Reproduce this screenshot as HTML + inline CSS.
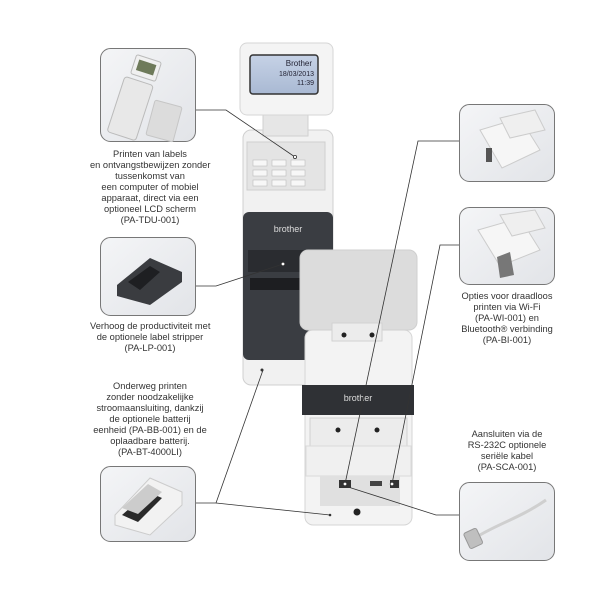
<!DOCTYPE html>
<html><head><meta charset="utf-8"><style>
html,body{margin:0;padding:0;background:#fff;}
body{width:612px;height:589px;position:relative;overflow:hidden;font-family:"Liberation Sans",sans-serif;}
.t{position:absolute;text-align:center;font-size:9.3px;line-height:11px;color:#333;white-space:nowrap;}
</style></head><body>
<svg width="612" height="589" style="position:absolute;left:0;top:0">
<defs>
<linearGradient id="bx" x1="0" y1="0" x2="1" y2="1"><stop offset="0" stop-color="#f4f5f7"/><stop offset="1" stop-color="#e2e4e8"/></linearGradient>
<linearGradient id="lcd" x1="0" y1="0" x2="0" y2="1"><stop offset="0" stop-color="#c6d2e6"/><stop offset="1" stop-color="#a9b9d3"/></linearGradient>
</defs>
<!-- boxes -->
<g stroke="#777" stroke-width="1" fill="url(#bx)">
<rect x="100.5" y="48.5" width="95" height="93" rx="10"/>
<rect x="100.5" y="237.5" width="95" height="78" rx="10"/>
<rect x="100.5" y="466.5" width="95" height="75" rx="10"/>
<rect x="459.5" y="104.5" width="95" height="77" rx="10"/>
<rect x="459.5" y="207.5" width="95" height="77" rx="10"/>
<rect x="459.5" y="482.5" width="95" height="78" rx="10"/>
</g>
<!-- box contents -->
<g>
<!-- keypad device -->
<rect x="118" y="80" width="30" height="58" rx="3" fill="#e8e8e8" stroke="#bbb" transform="rotate(18 133 100)"/>
<rect x="133" y="58" width="26" height="20" rx="2" fill="#f0f0f0" stroke="#bbb" transform="rotate(18 146 68)"/>
<rect x="137" y="62" width="18" height="11" fill="#6e7a5a" transform="rotate(18 146 68)"/>
<rect x="150" y="103" width="28" height="36" rx="2" fill="#dcdcdc" stroke="#c6c6c6" transform="rotate(15 164 121)"/>
<!-- label stripper -->
<polygon points="117,285 150,258 182,272 182,282 150,305 117,296" fill="#3a3c40"/>
<polygon points="128,282 150,266 160,272 140,290" fill="#1e1f22"/>
<!-- battery -->
<polygon points="115,515 150,478 182,492 182,505 150,535 115,525" fill="#f2f2f2" stroke="#ccc"/>
<polygon points="122,515 148,492 162,498 138,522" fill="#2a2a2a"/>
<polygon points="122,508 148,484 162,492 138,514" fill="#ccc"/>
<!-- wifi module -->
<polygon points="480,130 520,118 540,150 502,168" fill="#f6f6f6" stroke="#ccc"/>
<polygon points="500,118 535,110 545,130 510,138" fill="#efefef" stroke="#ccc"/>
<rect x="486" y="148" width="6" height="14" fill="#555"/>
<!-- bt module -->
<polygon points="478,230 520,218 540,250 500,266" fill="#f6f6f6" stroke="#ccc"/>
<polygon points="500,215 535,210 545,228 512,236" fill="#efefef" stroke="#ccc"/>
<polygon points="497,257 510,252 514,275 500,278" fill="#777"/>
<!-- cable -->
<path d="M475,538 C495,525 520,518 546,500" stroke="#cfcfcf" stroke-width="3" fill="none"/>
<rect x="466" y="530" width="14" height="17" rx="2" fill="#bfbfbf" stroke="#999" transform="rotate(-25 473 538)"/>
</g>
<!-- printer back (front view) -->
<rect x="243" y="130" width="90" height="255" rx="8" fill="#f1f1f1" stroke="#d0d0d0"/>
<rect x="247" y="142" width="78" height="48" fill="#e4e4e4" stroke="#cfcfcf"/>
<g fill="#f7f7f7" stroke="#bdbdbd" stroke-width="0.6">
<rect x="253" y="160" width="14" height="6"/><rect x="272" y="160" width="14" height="6"/><rect x="291" y="160" width="14" height="6"/>
<rect x="253" y="170" width="14" height="6"/><rect x="272" y="170" width="14" height="6"/><rect x="291" y="170" width="14" height="6"/>
<rect x="253" y="180" width="14" height="6"/><rect x="272" y="180" width="14" height="6"/><rect x="291" y="180" width="14" height="6"/>
</g>
<rect x="243" y="212" width="90" height="148" rx="6" fill="#3a3d42"/>
<text x="288" y="232" font-size="9" fill="#ddd" text-anchor="middle" font-family="Liberation Sans">brother</text>
<rect x="248" y="250" width="60" height="22" fill="#2a2c30"/>
<rect x="250" y="278" width="55" height="12" fill="#1d1e21"/>
<rect x="263" y="114" width="45" height="22" fill="#e6e6e6" stroke="#d0d0d0"/>
<rect x="240" y="43" width="93" height="72" rx="7" fill="#f4f4f4" stroke="#d6d6d6"/>
<rect x="250" y="55" width="68" height="39" rx="3" fill="url(#lcd)" stroke="#333" stroke-width="1.5"/>
<text x="312" y="66" font-size="8" fill="#223" text-anchor="end" font-family="Liberation Sans">Brother</text>
<text x="314" y="76" font-size="7" fill="#223" text-anchor="end" font-family="Liberation Sans">18/03/2013</text>
<text x="314" y="85" font-size="7" fill="#223" text-anchor="end" font-family="Liberation Sans">11:39</text>
<circle cx="262" cy="370" r="1.5" fill="#333"/>
<!-- printer with battery (rear) -->
<rect x="305" y="330" width="107" height="195" rx="8" fill="#f3f3f3" stroke="#d6d6d6"/>
<rect x="302" y="385" width="112" height="30" fill="#2f3135"/>
<text x="358" y="401" font-size="9" fill="#ddd" text-anchor="middle" font-family="Liberation Sans">brother</text>
<rect x="310" y="418" width="97" height="28" fill="#ececec" stroke="#d0d0d0"/>
<circle cx="338" cy="430" r="2.5" fill="#222"/><circle cx="377" cy="430" r="2.5" fill="#222"/>
<rect x="306" y="446" width="105" height="30" fill="#f0f0f0" stroke="#dadada"/>
<rect x="320" y="476" width="80" height="30" fill="#e0e0e0"/>
<rect x="339" y="480" width="12" height="8" fill="#333"/><rect x="370" y="481" width="12" height="5" fill="#444"/><rect x="390" y="480" width="9" height="8" fill="#333"/>
<circle cx="357" cy="512" r="3.5" fill="#222"/>
<rect x="300" y="250" width="117" height="80" rx="8" fill="#dcdcdc" stroke="#cfcfcf"/>
<rect x="332" y="323" width="50" height="18" fill="#ececec" stroke="#d2d2d2"/>
<circle cx="344" cy="335" r="2.5" fill="#222"/><circle cx="372" cy="335" r="2.5" fill="#222"/>
<!-- connectors -->
<g stroke="#333" stroke-width="0.8" fill="none">
<polyline points="196,110 226,110 295,157"/>
<polyline points="196,286 216,286 283,264"/>
<polyline points="196,503 216,503 263,370"/>
<polyline points="216,503 330,515"/>
<polyline points="459,141 418,141 345,484"/>
<polyline points="459,245 440,245 392,484"/>
<polyline points="459,515 436,515 345,486"/>
</g>
<g fill="#fff" stroke="#333" stroke-width="0.8">
<circle cx="295" cy="157" r="1.6"/><circle cx="283" cy="264" r="1.8"/><circle cx="345" cy="484" r="1.8"/><circle cx="392" cy="484" r="1.8"/>
</g>
<circle cx="330" cy="515" r="1.3" fill="#333"/>
</svg>
<div class="t" style="left:90px;top:149px;width:120px;">Printen van labels<br>en ontvangstbewijzen zonder<br>tussenkomst van<br>een computer of mobiel<br>apparaat, direct via een<br>optioneel LCD scherm<br>(PA-TDU-001)</div>
<div class="t" style="left:90px;top:321px;width:120px;">Verhoog de productiviteit met<br>de optionele label stripper<br>(PA-LP-001)</div>
<div class="t" style="left:90px;top:381px;width:120px;">Onderweg printen<br>zonder noodzakelijke<br>stroomaansluiting, dankzij<br>de optionele batterij<br>eenheid (PA-BB-001) en de<br>oplaadbare batterij.<br>(PA-BT-4000LI)</div>
<div class="t" style="left:447px;top:291px;width:120px;">Opties voor draadloos<br>printen via Wi-Fi<br>(PA-WI-001) en<br>Bluetooth® verbinding<br>(PA-BI-001)</div>
<div class="t" style="left:447px;top:429px;width:120px;">Aansluiten via de<br>RS-232C optionele<br>seriële kabel<br>(PA-SCA-001)</div>
</body></html>
